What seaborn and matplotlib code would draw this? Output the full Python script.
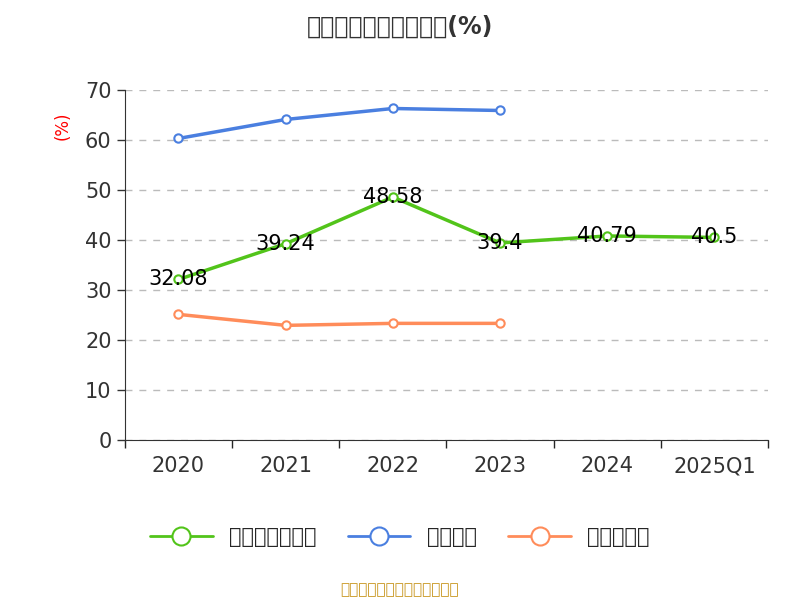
import numpy as np
import pandas as pd
import matplotlib
matplotlib.use("Agg")
import matplotlib.pyplot as plt
import seaborn as sns
from matplotlib.lines import Line2D
from matplotlib import font_manager

cjk = [f.name for f in font_manager.fontManager.ttflist if 'CJK' in f.name]
plt.rcParams['font.family'] = 'sans-serif'
plt.rcParams['font.sans-serif'] = ['DejaVu Sans'] + sorted(set(cjk))

years = ['2020', '2021', '2022', '2023', '2024', '2025Q1']
company = [32.08, 39.24, 48.58, 39.4, 40.79, 40.5]
ind_mean = [60.3, 64.1, 66.3, 65.9]
ind_median = [25.1, 22.9, 23.3, 23.3]

sns.set_style('white', {'font.sans-serif': plt.rcParams['font.sans-serif']})
fig = plt.figure(figsize=(8, 6), dpi=100)
ax = fig.add_axes([0.156, 0.267, 0.804, 0.583])

x = np.arange(len(years))
series = [
    (company, '公司资产负债率', '#52c41a'),
    (ind_mean, '行业均值', '#4a7fe0'),
    (ind_median, '行业中位数', '#ff8c5a'),
]
for vals, name, col in series:
    df = pd.DataFrame({'x': x[:len(vals)], 'y': vals})
    sns.lineplot(data=df, x='x', y='y', ax=ax, color=col, linewidth=2.5,
                 marker='o', markersize=6, markerfacecolor='white',
                 markeredgecolor=col, markeredgewidth=1.5)

for xi, v in zip(x, company):
    ax.text(xi, v, f'{v:g}', ha='center', va='center', fontsize=15, color='black')

ax.set_xlim(-0.5, 5.5)
ax.set_ylim(0, 70)
ax.set_yticks(range(0, 71, 10))
ax.tick_params(axis='y', labelsize=15, colors='#333333', length=6, width=1, direction='out', left=True)
ax.set_xticks(np.arange(-0.5, 6, 1))
ax.set_xticks(x, minor=True)
ax.set_xticklabels([])
ax.set_xticklabels(years, minor=True)
ax.tick_params(axis='x', which='major', length=6, width=1, bottom=True)
ax.tick_params(axis='x', which='minor', length=0, labelsize=15, pad=12, colors='#333333')
ax.grid(axis='y', linestyle=(0, (5, 5)), color='#bbbbbb', linewidth=1)
ax.set_xlabel('')
ax.set_ylabel('')
for s in ['top', 'right']:
    ax.spines[s].set_visible(False)
ax.spines['left'].set_color('#333333')
ax.spines['bottom'].set_color('#333333')

fig.text(0.078, 0.79, '(%)', color='red', rotation=90, fontsize=12, ha='center', va='center')
fig.text(0.5, 0.955, '近年来资产负债率情况(%)', ha='center', va='center', fontsize=17, fontweight='bold', color='#333333')

handles = [Line2D([0], [0], color=c, linewidth=2, marker='o', markersize=13,
                  markerfacecolor='white', markeredgecolor=c, markeredgewidth=1.5)
           for _, _, c in series]
fig.legend(handles, [n for _, n, _ in series], loc='center', bbox_to_anchor=(0.5, 0.105),
           ncol=3, frameon=False, fontsize=15, handlelength=3, columnspacing=1.5)
fig.text(0.5, 0.017, '制图数据来自恒生聚源数据库', ha='center', va='center', fontsize=11, color='#c8961e')

fig.savefig('out.png', dpi=100)
